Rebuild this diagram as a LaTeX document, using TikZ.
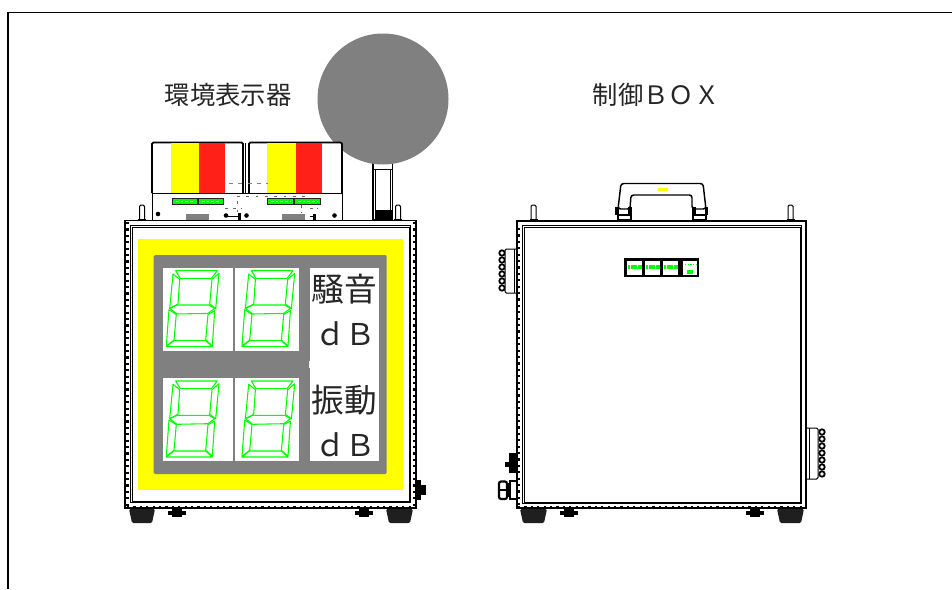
\documentclass[tikz,border=0pt]{standalone}
\usepackage{fontspec}
\newfontfamily\jpfont{Noto Sans CJK JP}
\definecolor{pgray}{RGB}{128,128,128}
\definecolor{hgreen}{RGB}{0,255,0}
\definecolor{hred}{RGB}{255,32,24}
\definecolor{hyellow}{RGB}{255,255,0}
\tikzset{
  px/.style={x=0.75pt,y=-0.75pt},
  caplbl/.style={font=\jpfont\fontsize{19}{19}\selectfont,inner sep=0pt,text=black!85},
  biglbl/.style={font=\jpfont\fontsize{24.5}{24.5}\selectfont,inner sep=0pt,text=black!85},
  unitlbl/.style={font=\jpfont\fontsize{22.5}{22.5}\selectfont,inner sep=0pt,text=black!85},
  ln/.style={draw=black,line width=0.75pt},
  thk/.style={draw=black,line width=1.4pt},
  seg/.style={draw=hgreen,line width=0.8pt,line join=round},
  dotline/.style={draw=black,line width=1.6pt,dash pattern=on 1.6pt off 3.2pt},
}
\newcommand{\segdigit}[2]{%
  \begin{scope}[shift={(#1,#2)}]
    \draw[seg] (12.7,3)--(54.3,3)--(48.3,10.7)--(17.3,10.7)--cycle;
    \draw[seg] (10,6.3)--(16.7,11.7)--(15,36.3)--(6.7,40.7)--cycle;
    \draw[seg] (56,5.7)--(49,11.7)--(46.7,36.3)--(52.7,40.7)--cycle;
    \draw[seg] (6.7,40.7)--(14,37.3)--(46,37.3)--(51.7,40.7)--(45,45.7)--(14,46.3)--cycle;
    \draw[seg] (6,42)--(13.3,46.7)--(11,72.3)--(3.3,78.3)--cycle;
    \draw[seg] (51.7,43)--(45,46.7)--(42.7,72.3)--(49.3,78.3)--cycle;
    \draw[seg] (3.3,79)--(10.7,73)--(42.7,73)--(49.3,79)--cycle;
  \end{scope}}
\newcommand{\boltmark}[1]{%
  \draw[ln,fill=white,rounded corners=1pt] (#1-2.5,220)--(#1-2.5,205)--(#1+2.5,205)--(#1+2.5,220);
  \fill (#1-4,219) rectangle (#1+4,220.5);}
\newcommand{\footbox}[2]{%
  \fill[black!88,rounded corners=1pt] (#1,509)--(#2,509)--(#2-3,523)--(#1+3,523)--cycle;}
\newcommand{\smallfootbox}[1]{%
  \fill (#1-5,508)rectangle(#1+5,517);
  \fill (#1-9,511)rectangle(#1+9,515);}
\newcommand{\knobmark}[2]{\draw[line width=1.35pt,fill=white] (#1,#2) circle[radius=2.7];}
\begin{document}
\begin{tikzpicture}[px]
\useasboundingbox (0,0) rectangle (952,589);
\fill[white] (0,0) rectangle (952,589);
% frame
\draw[draw=black,line width=1.2pt] (8,589)--(8,12.5)--(952,12.5);
% captions
\node[caplbl] (lblA) at (228,95) {環境表示器};
\node[caplbl] (lblB) at (656,95) {制御ＢＯＸ};

% ===== sensor pole & ball
\draw[thk,fill=white] (373,163) rectangle (392.5,220);
\draw[ln] (375.5,170)--(375.5,220);
\draw[ln] (390,170)--(390,220);
\draw[ln] (373,169.5)--(392.5,169.5);
\fill (375,210) rectangle (393,220);
\fill[pgray] (383,99) circle[radius=65.5];

% ===== top units
\foreach \xa/\xb/\ya/\yb/\ra in {152/243/171/199/225,249/342/267/296/322}{
  \draw[thk,fill=white,rounded corners=1pt] (\xa,193)--(\xa,142.5)--(\xb,142.5)--(\xb,193);
  \fill[hyellow] (\ya,143.2) rectangle (\yb,192.5);
  \fill[hred] (\yb,143.2) rectangle (\ra,192.5);
}
\draw[ln] (245.5,143)--(245.5,193);
\draw[ln,fill=white] (152,193) rectangle (342,220);
% strips
\foreach \sx/\sw in {172/26,198/26,267/27,294/27}{
  \fill[black!85] (\sx,198) rectangle (\sx+\sw,205);
  \fill[hgreen] (\sx+1,199) rectangle (\sx+\sw-1,204);
  \draw[white,line width=1pt,dash pattern=on 2pt off 1.5pt] (\sx+4,201.5)--(\sx+\sw-4,201.5);
}
\fill[pgray] (186,213.5) rectangle (209,220);
\fill[pgray] (282,213.5) rectangle (305,220);
\fill (158,214) circle[radius=2.3];
\fill (226,215.5) circle[radius=2.3];
\fill (246.5,215.5) circle[radius=2.3];
\fill (334.5,215.5) circle[radius=2.3];
\draw[ln] (226,216.5)--(240,216.5);
\fill (238,213) rectangle (241,220);
\draw[ln] (310,216.5)--(314,216.5);
\fill (313,214) rectangle (316,220);
% faint dashed marks
\draw[pgray,line width=0.7pt,dash pattern=on 3pt off 4pt] (229,183.5)--(268,183.5);
\draw[black!60,line width=0.7pt,dash pattern=on 2pt off 5pt] (237,196.5)--(306,196.5);
\draw[black!60,line width=0.7pt,dash pattern=on 2pt off 5pt] (237,201)--(237,212);
\draw[black!60,line width=0.7pt,dash pattern=on 2pt off 4pt] (225,208)--(242,208);
\draw[black!60,line width=0.7pt,dash pattern=on 2pt off 3pt] (301,205)--(301,212);
\draw[black!60,line width=0.7pt,dash pattern=on 2pt off 3pt] (310,208)--(317,208);

% ===== left enclosure
\boltmark{142} \boltmark{398}
\footbox{129}{155} \footbox{386}{413}
\smallfootbox{177} \smallfootbox{364}
\fill (414,480) rectangle (421,500);
\fill (419,485) rectangle (426,495);
\draw[thk,fill=white] (125,220.5) rectangle (416,508);
\draw[dotline] (127.5,222)--(127.5,507);
\draw[dotline] (414,222)--(414,507);
\draw[dotline] (127,507)--(414,507);
\draw[ln,fill=white] (132,227) rectangle (409,501.5);
\draw[draw=black,line width=0.6pt] (130.8,225.8) rectangle (410.2,502.7);
\fill[hyellow] (137.5,239) rectangle (403,490);
\fill[pgray,rounded corners=1pt] (153.7,255) rectangle (386.7,474);
\foreach \cy/\ch in {267.7/351,378/461.3}{
  \fill[white] (163,\cy) rectangle (233.3,\ch);
  \fill[white] (235.3,\cy) rectangle (299,\ch);
}
\fill[white] (310,267.7) rectangle (378.7,461.3);
\fill[white] (308.5,361) rectangle (311,368);
\segdigit{163}{267.7}
\segdigit{238.7}{267.7}
\segdigit{163}{378}
\segdigit{238.7}{378}
\node[biglbl] (t1) at (344,289) {騒音};
\node[unitlbl] (t2) at (345,334) {ｄＢ};
\node[biglbl] (t3) at (344,400) {振動};
\node[unitlbl] (t4) at (345,445) {ｄＢ};

% ===== right box
\boltmark{533.5} \boltmark{790.5}
% handle
\draw[draw=black,line width=1.1pt,fill=white,rounded corners=2pt] (618,209)--(621,183.5)--(703,183.5)--(706,209)--(692,209)--(692,195)--(631,195)--(630,209)--cycle;
\fill[hyellow] (658,187.7) rectangle (668,191);
\fill (615,207) rectangle (619,215);
\fill (628,207) rectangle (632,220);
\fill (692,207) rectangle (696,220);
\fill (705,207) rectangle (708,215);
\draw[line width=1pt,fill=white] (618,215) rectangle (631,220);
\draw[line width=1pt,fill=white] (693,215) rectangle (706,220);
% feet
\footbox{520}{547} \footbox{777}{804}
\smallfootbox{569} \smallfootbox{755}
% side connectors
\foreach \ky in {253,260,267,274,281,288}{\knobmark{502}{\ky}}
\draw[ln,fill=white,rounded corners=1pt] (517,249)--(505,249)--(505,293)--(517,293);
\draw[ln] (514,249)--(514,293);
\foreach \ky in {432,439,446,453,460,467,474}{\knobmark{822}{\ky}}
\draw[ln,fill=white,rounded corners=1pt] (806,428)--(818,428)--(818,479)--(806,479);
\draw[ln] (809,428)--(809,479);
\fill (509,453) rectangle (517,473);
\fill (505,462) rectangle (510,467);
\draw[line width=1.6pt,fill=white,rounded corners=1.5pt] (499,481.5) rectangle (507,499);
\draw[line width=1.3pt] (499,490)--(507,490);
\fill (507,483) rectangle (510,497);
\draw[line width=1.3pt,fill=white] (510,481) rectangle (517,499);
\draw[thk,fill=white] (517,220.7) rectangle (806,508);
\draw[dotline] (519.3,228)--(519.3,507);
\draw[dotline] (518,507.3)--(805,507.3);
\draw[ln] (524,227) rectangle (800,502);
\draw[draw=black,line width=0.6pt] (522.8,225.8) rectangle (801.2,503.2);
% panel
\fill (624,258) rectangle (699,277);
\foreach \pa/\pb in {627/642,645/660,663/678,683/697}{
  \fill[white] (\pa,261) rectangle (\pb,275);
}
\foreach \pa/\pb in {627/642,645/660,663/678}{
  \draw[hgreen,line width=3pt,dash pattern=on 2pt off 0.6pt] (\pa+0.5,266.5)--(\pb-0.5,266.5);
}
\fill[hgreen] (687,270) rectangle (693,274);
\draw[hgreen,line width=0.6pt,dash pattern=on 1pt off 1pt] (685,264)--(696,264);
\end{tikzpicture}
\end{document}
